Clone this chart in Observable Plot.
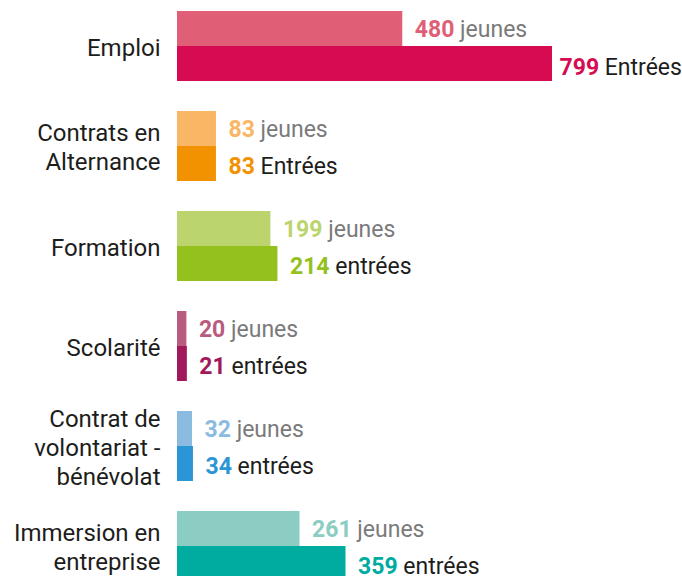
<!DOCTYPE html>
<html>
<head>
<meta charset="utf-8">
<script src="https://cdn.jsdelivr.net/npm/d3@7"></script>
<script src="https://cdn.jsdelivr.net/npm/@observablehq/plot@0.6"></script>
<style>
  html, body { margin: 0; padding: 0; background: #fff; }
  #chart svg { display: block; }
</style>
</head>
<body>
<div id="chart"></div>
<script>
const categories = ["Emploi", "Contrats en Alternance", "Formation", "Scolarité", "Contrat de volontariat - bénévolat", "Immersion en entreprise"];
const categoryLabels = ["Emploi", "Contrats en\nAlternance", "Formation", "Scolarité", "Contrat de\nvolontariat -\nbénévolat", "Immersion en\nentreprise"];
const jeunes = [480, 83, 199, 20, 32, 261];
const entrees = [799, 83, 214, 21, 34, 359];
const jeunesWord = "jeunes";
const entreesWords = ["Entrées", "Entrées", "entrées", "entrées", "entrées", "entrées"];
const jeunesColors = ["#e05f76", "#f9b664", "#bcd46e", "#b95b7e", "#8bbbe1", "#8ccdc3"];
const entreesColors = ["#d60b51", "#f39200", "#95c11f", "#a2195b", "#2a96d5", "#00ab9f"];

const rows = categories.map((c, i) => ({
  category: c,
  label: categoryLabels[i],
  jeunes: jeunes[i],
  entrees: entrees[i],
  jc: jeunesColors[i],
  ec: entreesColors[i],
  jText: jeunes[i] + " " + jeunesWord,
  eText: entrees[i] + " " + entreesWords[i]
}));
const maxE = d3.max(entrees);
const FONT = "Roboto, 'DejaVu Sans', sans-serif";
const FS = 23;

const plot = Plot.plot({
  width: 682,
  height: 576,
  margin: 0,
  style: { fontFamily: FONT, background: "#fff" },
  x: { domain: [0, maxE], range: [177, 552], axis: null },
  y: { domain: categories, range: [-4, 596], paddingInner: 0.3, paddingOuter: 0.15, axis: null },
  color: { type: "identity" },
  marks: [
    Plot.barX(rows, { y: "category", x: "jeunes", fill: "jc", insetBottom: 35 }),
    Plot.barX(rows, { y: "category", x: "entrees", fill: "ec", insetTop: 35 }),
    Plot.text(rows, { y: "category", text: "label", frameAnchor: "left", dx: 160, dy: 0, textAnchor: "end", lineHeight: 1.2, fontSize: 24, fill: "#1d1d1b" }),
    Plot.text(rows, { x: "jeunes", y: "category", text: "jText", fill: "jc", textAnchor: "start", dx: 12, dy: -16.5, fontSize: FS }),
    Plot.text(rows, { filter: d => d.entrees < maxE, x: "entrees", y: "category", text: "eText", fill: "ec", textAnchor: "start", dx: 12, dy: 20, fontSize: FS }),
    Plot.text(rows, { filter: d => d.entrees === maxE, x: "entrees", y: "category", text: "eText", fill: "ec", textAnchor: "start", dx: 7, dy: 21, fontSize: FS })
  ]
});

document.getElementById("chart").appendChild(plot);

// split each value label into a bold coloured number and a plain word
const re = /^(\d+) (jeunes|Entrées|entrées)$/;
plot.querySelectorAll("text").forEach(t => {
  if (t.querySelector("tspan")) return;
  const m = re.exec(t.textContent.trim());
  if (!m) return;
  const color = t.getAttribute("fill") || t.parentNode.getAttribute("fill");
  const wordColor = m[2] === jeunesWord ? "#7a7a7a" : "#1d1d1b";
  while (t.firstChild) t.removeChild(t.firstChild);
  const ns = "http://www.w3.org/2000/svg";
  const a = document.createElementNS(ns, "tspan");
  a.setAttribute("font-weight", "bold");
  a.setAttribute("fill", color);
  a.textContent = m[1];
  const b = document.createElementNS(ns, "tspan");
  b.setAttribute("fill", wordColor);
  b.textContent = " " + m[2];
  t.appendChild(a);
  t.appendChild(b);
});
</script>
</body>
</html>
